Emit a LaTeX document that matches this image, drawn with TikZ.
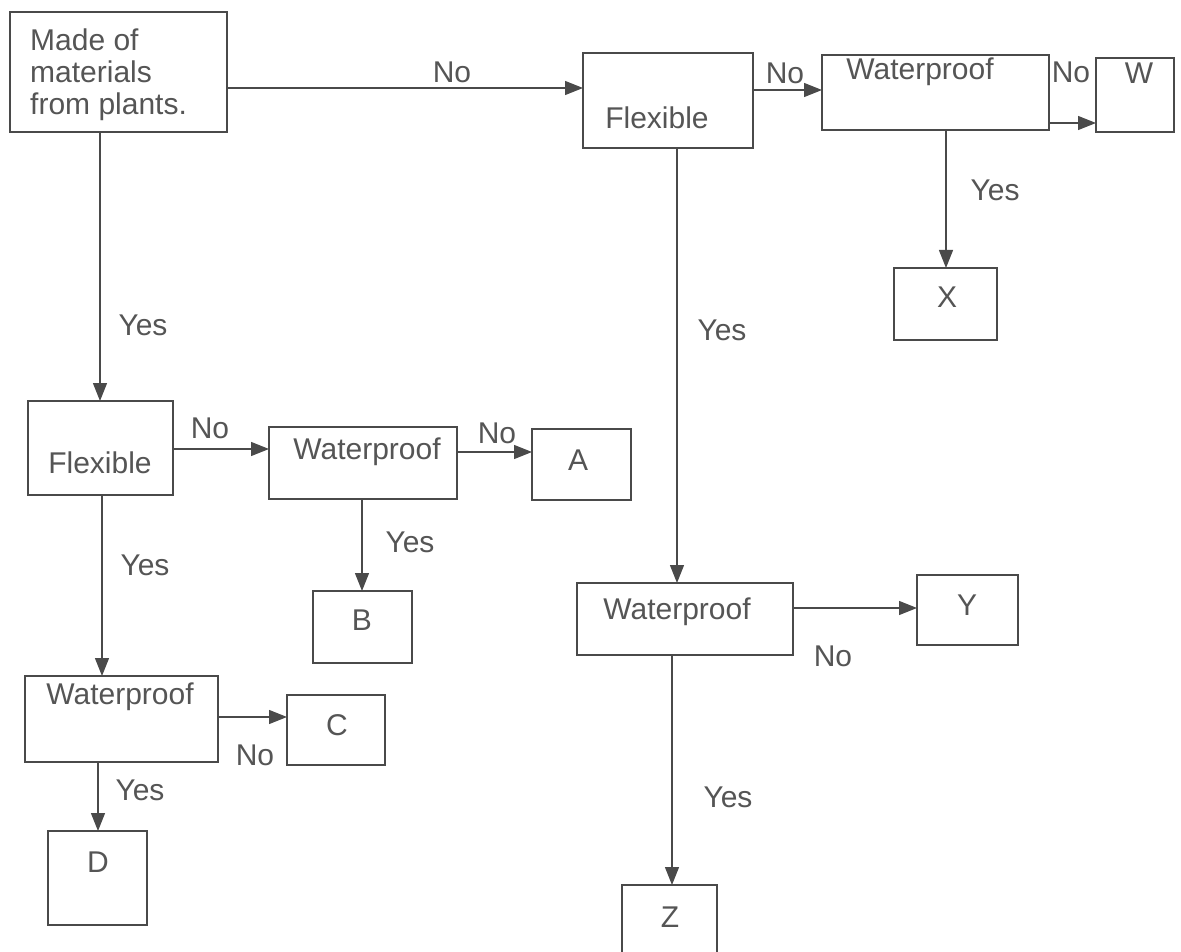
\documentclass[tikz,border=0pt]{standalone}
\usepackage{fontspec}
\setmainfont{Liberation Sans}
\usetikzlibrary{arrows.meta}
\definecolor{ink}{HTML}{4A4A4A}
\definecolor{txtink}{HTML}{555555}
\tikzset{
  box/.style={draw=ink, line width=1.3pt, inner sep=0pt, outer sep=0pt},
  txt/.style={text=txtink, inner sep=0pt, font=\fontsize{30pt}{32pt}\selectfont},
  lbl/.style={txt},
  arr/.style={draw=ink, line width=1.2pt, -{Triangle[length=18pt,width=14pt]}},
}
\begin{document}
\begin{tikzpicture}[x=1pt, y=-1pt]
\fill[white] (0,0) rectangle (1181,952);
\useasboundingbox (0,0) rectangle (1181,952);

% boxes (centre, width, height)
\node[box, minimum width=217pt, minimum height=120pt] (made)  at (118.5,72) {};
\node[box, minimum width=170pt, minimum height=95pt]  (flexR) at (668,100.5) {};
\node[box, minimum width=227pt, minimum height=75pt]  (wR)    at (935.5,92.5) {};
\node[box, minimum width=78pt,  minimum height=74pt]  (bW)    at (1135,95) {};
\node[box, minimum width=103pt, minimum height=72pt]  (bX)    at (945.5,304) {};
\node[box, minimum width=216pt, minimum height=72pt]  (wM)    at (685,619) {};
\node[box, minimum width=101pt, minimum height=70pt]  (bY)    at (967.5,610) {};
\node[box, minimum width=95pt,  minimum height=72pt]  (bZ)    at (669.5,921) {};
\node[box, minimum width=145pt, minimum height=94pt]  (flexL) at (100.5,448) {};
\node[box, minimum width=188pt, minimum height=72pt]  (wL1)   at (363,463) {};
\node[box, minimum width=99pt,  minimum height=71pt]  (bA)    at (581.5,464.5) {};
\node[box, minimum width=99pt,  minimum height=72pt]  (bB)    at (362.5,627) {};
\node[box, minimum width=193pt, minimum height=86pt]  (wL2)   at (121.5,719) {};
\node[box, minimum width=98pt,  minimum height=70pt]  (bC)    at (336,730) {};
\node[box, minimum width=99pt,  minimum height=94pt]  (bD)    at (97.5,878) {};

% box texts
\node[txt, anchor=west, align=left] (madeT) at (30,75) {Made of\\materials\\from plants.};
\node[txt] (flexRT) at (657,118) {Flexible};
\node[txt] (wRT)    at (920,72)  {Waterproof};
\node[txt] (bWT)    at (1139,73) {W};
\node[txt] (bXT)    at (947,297) {X};
\node[txt] (wMT)    at (677,612) {Waterproof};
\node[txt] (bYT)    at (967,605) {Y};
\node[txt] (bZT)    at (670,917) {Z};
\node[txt] (flexLT) at (100,463) {Flexible};
\node[txt] (wL1T)   at (367,452) {Waterproof};
\node[txt] (bAT)    at (578,460) {A};
\node[txt] (bBT)    at (362,620) {B};
\node[txt] (wL2T)   at (120,697) {Waterproof};
\node[txt] (bCT)    at (337,725) {C};
\node[txt] (bDT)    at (98,862)  {D};

% connectors
\draw[arr] ([yshift=-16pt]made.east) -- ([yshift=12.5pt]flexR.west);
\draw[arr] ([yshift=10.5pt]flexR.east) -- ([yshift=2.5pt]wR.west);
\draw[arr] ([yshift=-30.5pt]wR.east) -- ([yshift=-28pt]bW.west);
\draw[arr] ([xshift=10.5pt]wR.south) -- ([xshift=0.5pt]bX.north);
\draw[arr] ([xshift=9pt]flexR.south) -- ([xshift=-8pt]wM.north);
\draw[arr] ([yshift=11pt]wM.east) -- ([yshift=2pt]bY.west);
\draw[arr] ([xshift=-13pt]wM.south) -- ([xshift=2.5pt]bZ.north);
\draw[arr] ([xshift=-18.5pt]made.south) -- ([xshift=-0.5pt]flexL.north);
\draw[arr] ([yshift=-1pt]flexL.east) -- ([yshift=14pt]wL1.west);
\draw[arr] ([yshift=11pt]wL1.east) -- ([yshift=12.5pt]bA.west);
\draw[arr] ([xshift=-1pt]wL1.south) -- ([xshift=-0.5pt]bB.north);
\draw[arr] ([xshift=1.5pt]flexL.south) -- ([xshift=-19.5pt]wL2.north);
\draw[arr] ([yshift=2pt]wL2.east) -- ([yshift=13pt]bC.west);
\draw[arr] ([xshift=-23.5pt]wL2.south) -- ([xshift=0.5pt]bD.north);

% branch labels
\node[lbl] (n1) at (452,72)   {No};
\node[lbl] (n2) at (785,73)   {No};
\node[lbl] (n3) at (1071,72)  {No};
\node[lbl] (y1) at (995,190)  {Yes};
\node[lbl] (y2) at (722,330)  {Yes};
\node[lbl] (n4) at (833,656)  {No};
\node[lbl] (y3) at (728,797)  {Yes};
\node[lbl] (y4) at (143,325)  {Yes};
\node[lbl] (n5) at (210,428)  {No};
\node[lbl] (n6) at (497,433)  {No};
\node[lbl] (y5) at (410,542)  {Yes};
\node[lbl] (y6) at (145,565)  {Yes};
\node[lbl] (n7) at (255,755)  {No};
\node[lbl] (y7) at (140,790)  {Yes};
\end{tikzpicture}
\end{document}
